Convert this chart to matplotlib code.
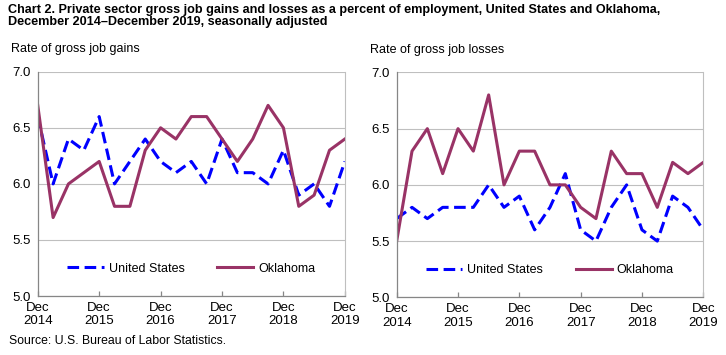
import numpy as np
import matplotlib
matplotlib.use('Agg')
import matplotlib.pyplot as plt

plt.rcParams['font.family'] = ['Liberation Sans', 'DejaVu Sans']

years = ['2014', '2015', '2016', '2017', '2018', '2019']
tick_labels = ['Dec\n' + y for y in years]

# quarterly rates, Dec 2014 .. Dec 2019
gains_us = [6.6, 6.0, 6.4, 6.3, 6.6, 6.0, 6.2, 6.4, 6.2, 6.1, 6.2, 6.0, 6.4, 6.1, 6.1, 6.0, 6.3, 5.9, 6.0, 5.8, 6.2]
gains_ok = [6.7, 5.7, 6.0, 6.1, 6.2, 5.8, 5.8, 6.3, 6.5, 6.4, 6.6, 6.6, 6.4, 6.2, 6.4, 6.7, 6.5, 5.8, 5.9, 6.3, 6.4]
losses_us = [5.7, 5.8, 5.7, 5.8, 5.8, 5.8, 6.0, 5.8, 5.9, 5.6, 5.8, 6.1, 5.6, 5.5, 5.8, 6.0, 5.6, 5.5, 5.9, 5.8, 5.6]
losses_ok = [5.5, 6.3, 6.5, 6.1, 6.5, 6.3, 6.8, 6.0, 6.3, 6.3, 6.0, 6.0, 5.8, 5.7, 6.3, 6.1, 6.1, 5.8, 6.2, 6.1, 6.2]

us_color = '#0000FF'
ok_color = '#993366'
axis_color = '#868686'
grid_color = '#BFBFBF'

fig = plt.figure(figsize=(7.26, 3.55), dpi=100)

fig.text(0.011, 0.99, 'Chart 2. Private sector gross job gains and losses as a percent of employment, United States and Oklahoma,\nDecember 2014\u2013December 2019, seasonally adjusted',
         fontsize=9.1, fontweight='bold', va='top', ha='left', linespacing=1.1)
fig.text(0.013, 0.022, 'Source: U.S. Bureau of Labor Statistics.', fontsize=8.8, va='bottom')

def panel(rect, us, ok, label):
    ax = fig.add_axes(rect)
    x = np.arange(len(us))
    ax.plot(x, us, color=us_color, lw=2.2, ls=(0, (3.8, 1.8)), label='United States')
    ax.plot(x, ok, color=ok_color, lw=2.2, label='Oklahoma')
    ax.set_xlim(0, len(us) - 1)
    ax.set_ylim(5.0, 7.0)
    ax.set_yticks([5.0, 5.5, 6.0, 6.5, 7.0])
    ax.set_yticklabels(['5.0', '5.5', '6.0', '6.5', '7.0'])
    ax.set_xticks(np.arange(0, len(us), 4))
    ax.set_xticklabels(tick_labels)
    ax.yaxis.grid(True, color=grid_color, lw=0.8)
    ax.set_axisbelow(True)
    ax.spines['top'].set_visible(False)
    for s in ['left', 'bottom']:
        ax.spines[s].set_color(axis_color)
        ax.spines[s].set_linewidth(0.9)
    ax.spines['right'].set_color(grid_color)
    ax.spines['right'].set_linewidth(0.8)
    ax.tick_params(axis='x', direction='in', colors=axis_color, labelcolor='black',
                   labelsize=9.5, length=3.5, width=0.9, pad=4)
    ax.tick_params(axis='y', length=0, labelsize=9.5, pad=5)
    ax.legend(loc='lower center', bbox_to_anchor=(0.5, 0.045), ncol=2, frameon=False,
              fontsize=9, handlelength=2.9, columnspacing=2.6, handletextpad=0.4)
    ax.text(-0.088, 1.075, label, transform=ax.transAxes, fontsize=9, va='bottom', ha='left')
    return ax

panel([0.052, 0.166, 0.423, 0.632], gains_us, gains_ok, 'Rate of gross job gains')
panel([0.5464, 0.1625, 0.4223, 0.6335], losses_us, losses_ok, 'Rate of gross job losses')

fig.savefig('out.png', dpi=100)
